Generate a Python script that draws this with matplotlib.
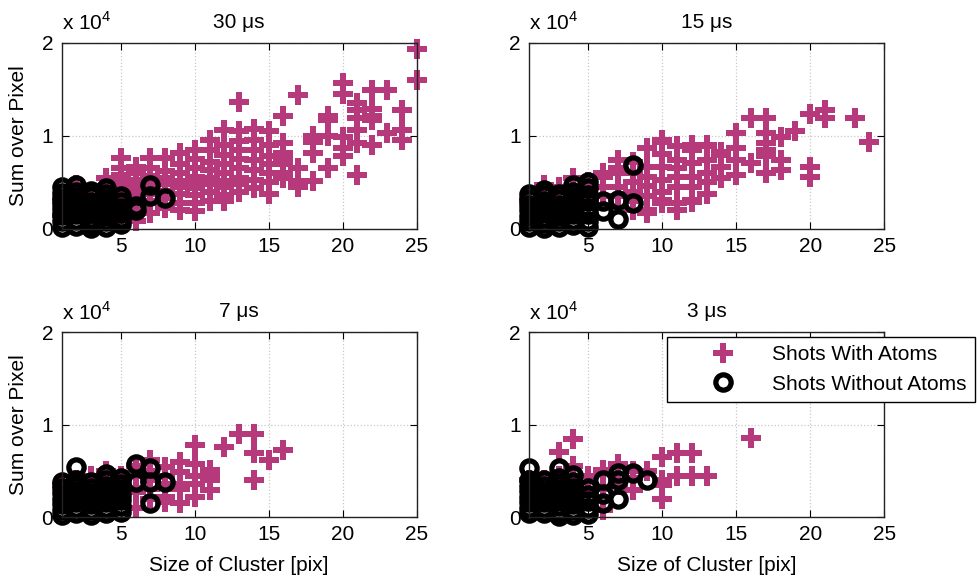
import matplotlib
matplotlib.use('Agg')
import matplotlib.pyplot as plt

plt.rcParams['font.family'] = ['Liberation Sans', 'DejaVu Sans']
plt.rcParams['mathtext.fontset'] = 'custom'
plt.rcParams['mathtext.rm'] = 'Liberation Sans'

# (cluster size [pix], sum over pixel [x 10^4])
with_30 = [
    (1, 0.30), (1, 0.15), (2, 0.47), (2, 0.25), (3, 0.35), (3, 0.15), (4, 0.55), (4, 0.40), (4, 0.20),
    (5, 0.76), (5, 0.66), (5, 0.58), (5, 0.52), (5, 0.46), (5, 0.40), (5, 0.33), (5, 0.27), (5, 0.20), (5, 0.12),
    (6, 0.67), (6, 0.60), (6, 0.53), (6, 0.47), (6, 0.42), (6, 0.36), (6, 0.30), (6, 0.20), (6, 0.08),
    (7, 0.76), (7, 0.65), (7, 0.57), (7, 0.50), (7, 0.45), (7, 0.38), (7, 0.30), (7, 0.17),
    (8, 0.76), (8, 0.62), (8, 0.55), (8, 0.48), (8, 0.41), (8, 0.33), (8, 0.22),
    (9, 0.82), (9, 0.70), (9, 0.60), (9, 0.52), (9, 0.45), (9, 0.38), (9, 0.28), (9, 0.20),
    (10, 0.85), (10, 0.75), (10, 0.65), (10, 0.56), (10, 0.50), (10, 0.44), (10, 0.36), (10, 0.28), (10, 0.19),
    (11, 0.96), (11, 0.85), (11, 0.72), (11, 0.63), (11, 0.55), (11, 0.48), (11, 0.40), (11, 0.30),
    (12, 1.06), (12, 0.90), (12, 0.80), (12, 0.70), (12, 0.60), (12, 0.52), (12, 0.45), (12, 0.36), (12, 0.30),
    (13, 1.36), (13, 1.05), (13, 0.95), (13, 0.85), (13, 0.75), (13, 0.65), (13, 0.55), (13, 0.48), (13, 0.40),
    (14, 1.08), (14, 0.96), (14, 0.85), (14, 0.74), (14, 0.63), (14, 0.53), (14, 0.44),
    (15, 1.05), (15, 0.90), (15, 0.78), (15, 0.70), (15, 0.60), (15, 0.50), (15, 0.38),
    (16, 1.21), (16, 0.92), (16, 0.82), (16, 0.76), (16, 0.70), (16, 0.60), (16, 0.55),
    (17, 1.44), (17, 0.65), (17, 0.52), (17, 0.45),
    (18, 1.00), (18, 0.93), (18, 0.82), (18, 0.52),
    (19, 1.21), (19, 1.17), (19, 1.00), (19, 0.65),
    (20, 1.57), (20, 1.45), (20, 0.99), (20, 0.87), (20, 0.78),
    (21, 1.35), (21, 1.28), (21, 1.19), (21, 1.06), (21, 0.92), (21, 0.58),
    (22, 1.49), (22, 1.29), (22, 1.22), (22, 1.17), (22, 0.90),
    (23, 1.49), (23, 1.03),
    (24, 1.28), (24, 1.06), (24, 0.96),
    (25, 1.94), (25, 1.60),
]
without_30 = [
    (1, 0.45), (1, 0.39), (1, 0.33), (1, 0.27), (1, 0.21), (1, 0.15), (1, 0.09), (1, 0.02),
    (2, 0.47), (2, 0.40), (2, 0.34), (2, 0.28), (2, 0.22), (2, 0.16), (2, 0.10), (2, 0.03),
    (3, 0.41), (3, 0.35), (3, 0.29), (3, 0.23), (3, 0.17), (3, 0.11), (3, 0.05), (3, 0.01),
    (4, 0.44), (4, 0.38), (4, 0.32), (4, 0.26), (4, 0.20), (4, 0.14), (4, 0.08), (4, 0.02),
    (5, 0.35), (5, 0.29), (5, 0.23), (5, 0.17), (5, 0.11), (5, 0.05),
    (6, 0.25), (6, 0.20),
    (7, 0.47), (7, 0.35),
    (8, 0.33),
]

with_15 = [
    (1, 0.30), (2, 0.47), (2, 0.30), (3, 0.45), (3, 0.30), (4, 0.55), (4, 0.40),
    (5, 0.50), (5, 0.45), (5, 0.35),
    (6, 0.60), (6, 0.56), (6, 0.45), (6, 0.35),
    (7, 0.74), (7, 0.65), (7, 0.60), (7, 0.45), (7, 0.35),
    (8, 0.72), (8, 0.60), (8, 0.50), (8, 0.40), (8, 0.30), (8, 0.20),
    (9, 0.87), (9, 0.67), (9, 0.56), (9, 0.46), (9, 0.35), (9, 0.20), (9, 0.17),
    (10, 0.96), (10, 0.94), (10, 0.81), (10, 0.67), (10, 0.53), (10, 0.40), (10, 0.31), (10, 0.28),
    (11, 0.89), (11, 0.74), (11, 0.65), (11, 0.56), (11, 0.45), (11, 0.28), (11, 0.20),
    (12, 0.90), (12, 0.85), (12, 0.71), (12, 0.56), (12, 0.45), (12, 0.31), (12, 0.29),
    (13, 0.90), (13, 0.89), (13, 0.74), (13, 0.60), (13, 0.50), (13, 0.38),
    (14, 0.83), (14, 0.80), (14, 0.67), (14, 0.55),
    (15, 1.03), (15, 0.87), (15, 0.74), (15, 0.58),
    (16, 1.19), (16, 0.71),
    (17, 1.19), (17, 1.03), (17, 0.92), (17, 0.85), (17, 0.78), (17, 0.60),
    (18, 0.99), (18, 0.74), (18, 0.63),
    (19, 1.05),
    (20, 1.24), (20, 0.67), (20, 0.56),
    (21, 1.28), (21, 1.19),
    (23, 1.19),
    (24, 0.94),
]
without_15 = [
    (1, 0.38), (1, 0.32), (1, 0.26), (1, 0.20), (1, 0.14), (1, 0.08), (1, 0.02),
    (2, 0.42), (2, 0.36), (2, 0.30), (2, 0.24), (2, 0.18), (2, 0.12), (2, 0.06), (2, 0.01),
    (3, 0.38), (3, 0.32), (3, 0.26), (3, 0.20), (3, 0.14), (3, 0.08), (3, 0.02),
    (4, 0.47), (4, 0.40), (4, 0.34), (4, 0.28), (4, 0.22), (4, 0.16), (4, 0.10), (4, 0.04),
    (5, 0.51), (5, 0.44), (5, 0.37), (5, 0.30), (5, 0.23), (5, 0.16), (5, 0.09), (5, 0.02),
    (6, 0.30), (6, 0.19),
    (7, 0.31), (7, 0.11),
    (8, 0.69), (8, 0.28),
]

with_7 = [
    (1, 0.35), (2, 0.40), (3, 0.45), (4, 0.50), (4, 0.40),
    (5, 0.45), (5, 0.30), (5, 0.20),
    (6, 0.55), (6, 0.45), (6, 0.31), (6, 0.27), (6, 0.10),
    (7, 0.62), (7, 0.50), (7, 0.40), (7, 0.30), (7, 0.20),
    (8, 0.54), (8, 0.45), (8, 0.36), (8, 0.22), (8, 0.16),
    (9, 0.60), (9, 0.49), (9, 0.36), (9, 0.30), (9, 0.15),
    (10, 0.78), (10, 0.58), (10, 0.44), (10, 0.36), (10, 0.22),
    (11, 0.51), (11, 0.45), (11, 0.40), (11, 0.29),
    (12, 0.76),
    (13, 0.90),
    (14, 0.90), (14, 0.69), (14, 0.40),
    (15, 0.62),
    (16, 0.73),
]
without_7 = [
    (1, 0.38), (1, 0.32), (1, 0.26), (1, 0.20), (1, 0.14), (1, 0.08), (1, 0.02),
    (2, 0.54), (2, 0.40), (2, 0.34), (2, 0.28), (2, 0.22), (2, 0.16), (2, 0.10), (2, 0.04),
    (3, 0.38), (3, 0.32), (3, 0.26), (3, 0.20), (3, 0.14), (3, 0.08), (3, 0.02),
    (4, 0.47), (4, 0.40), (4, 0.34), (4, 0.28), (4, 0.22), (4, 0.16), (4, 0.10), (4, 0.04),
    (5, 0.42), (5, 0.36), (5, 0.30), (5, 0.24), (5, 0.18), (5, 0.12), (5, 0.06),
    (6, 0.58), (6, 0.38),
    (7, 0.53), (7, 0.38), (7, 0.15),
    (8, 0.38),
]

with_3 = [
    (1, 0.40), (2, 0.40), (3, 0.71), (3, 0.45), (4, 0.85), (4, 0.55), (4, 0.40),
    (5, 0.45), (5, 0.30),
    (6, 0.51), (6, 0.30), (6, 0.08),
    (7, 0.58), (7, 0.35),
    (8, 0.50), (8, 0.42), (8, 0.29),
    (9, 0.50),
    (10, 0.65), (10, 0.40), (10, 0.35), (10, 0.20),
    (11, 0.69), (11, 0.44),
    (12, 0.69), (12, 0.44),
    (13, 0.44),
    (16, 0.86),
]
without_3 = [
    (1, 0.53), (1, 0.40), (1, 0.34), (1, 0.28), (1, 0.22), (1, 0.16), (1, 0.10), (1, 0.04),
    (2, 0.40), (2, 0.34), (2, 0.28), (2, 0.22), (2, 0.16), (2, 0.10), (2, 0.04),
    (3, 0.53), (3, 0.42), (3, 0.36), (3, 0.30), (3, 0.24), (3, 0.18), (3, 0.12), (3, 0.06), (3, 0.01),
    (4, 0.46), (4, 0.38), (4, 0.32), (4, 0.26), (4, 0.20), (4, 0.14), (4, 0.08), (4, 0.02),
    (5, 0.31), (5, 0.24), (5, 0.17), (5, 0.10), (5, 0.03),
    (6, 0.40), (6, 0.25), (6, 0.15),
    (7, 0.48), (7, 0.40), (7, 0.20),
    (8, 0.48),
    (9, 0.40),
]

titles = ['30 \u03bcs', '15 \u03bcs', '7 \u03bcs', '3 \u03bcs']
xticks = [5, 10, 15, 20, 25]
yticks = [0, 1, 2]

pink = '#B5397B'
fs = 15

fig = plt.figure(figsize=(9.78, 5.81), dpi=100)

# left, bottom, width, height in figure fractions
boxes = [
    [0.063, 0.606, 0.363, 0.320],
    [0.541, 0.606, 0.363, 0.320],
    [0.063, 0.110, 0.363, 0.318],
    [0.541, 0.110, 0.363, 0.318],
]
data = [(with_30, without_30), (with_15, without_15), (with_7, without_7), (with_3, without_3)]

handles = None
for i in range(4):
    ax = fig.add_axes(boxes[i])
    w, wo = data[i]
    wx, wy = zip(*w)
    ox, oy = zip(*wo)
    h1, = ax.plot(wx, wy, linestyle='none', marker='P', markersize=15, markeredgewidth=0,
                  color=pink, clip_on=False, label='Shots With Atoms')
    h2, = ax.plot(ox, oy, linestyle='none', marker='o', markersize=11, markeredgewidth=3.8,
                  markerfacecolor='none', markeredgecolor='black', clip_on=False,
                  label='Shots Without Atoms')
    handles = [h1, h2]

    ax.set_xlim(1, 25)
    ax.set_ylim(0, 2)
    ax.set_xticks(xticks)
    ax.set_yticks(yticks)
    ax.tick_params(direction='in', top=True, right=True, length=5, width=0.8,
                   labelsize=fs, pad=6)
    ax.grid(True, color='#c8c8c8', linestyle=':', linewidth=0.9)
    ax.set_axisbelow(True)
    for s in ax.spines.values():
        s.set_linewidth(1.0)
        s.set_color('#222222')

    ax.set_title(titles[i], fontsize=fs, pad=11)
    ax.text(0, 1.07, r'x 10$^{\mathrm{4}}$', transform=ax.transAxes, ha='left',
            va='baseline', fontsize=fs)

    if i % 2 == 0:
        ax.set_ylabel('Sum over Pixel', fontsize=fs)
        ax.yaxis.set_label_coords(-0.095, 0.5)
    if i >= 2:
        ax.set_xlabel('Size of Cluster [pix]', fontsize=fs)
        ax.xaxis.set_label_coords(0.5, -0.21)

leg = fig.legend(handles=handles, loc='upper left', bbox_to_anchor=(667 / 978, 1 - 337 / 581),
                 borderaxespad=0, fontsize=fs, fancybox=False, framealpha=1,
                 edgecolor='black', handlelength=4.6, handletextpad=0.05,
                 borderpad=0.4, labelspacing=0.5)
leg.get_frame().set_linewidth(1.0)

fig.savefig('out.png', dpi=100)
